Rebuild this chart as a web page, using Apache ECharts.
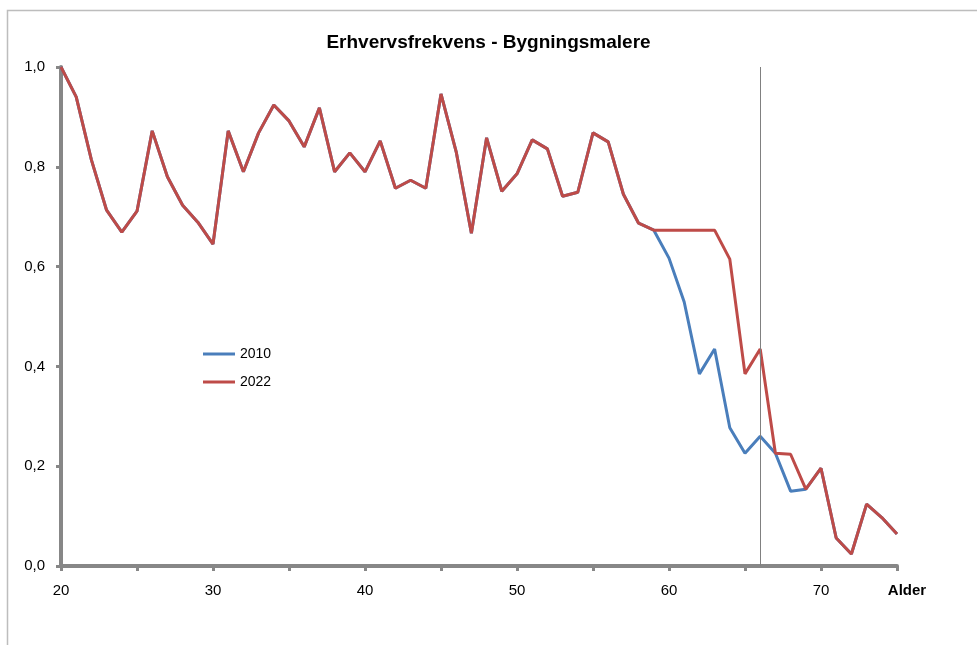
<!DOCTYPE html>
<html>
<head>
<meta charset="utf-8">
<script src="https://cdn.jsdelivr.net/npm/echarts@6/dist/echarts.min.js"></script>
<style>html,body{margin:0;padding:0;background:#fff}#c{width:977px;height:645px}</style>
</head>
<body>
<div id="c"></div>
<script>
const ages = [20,21,22,23,24,25,26,27,28,29,30,31,32,33,34,35,36,37,38,39,40,41,42,43,44,45,46,47,48,49,50,51,52,53,54,55,56,57,58,59,60,61,62,63,64,65,66,67,68,69,70,71,72,73,74,75];
const v2010 = [1.0,0.94,0.814,0.713,0.669,0.711,0.872,0.78,0.723,0.689,0.645,0.872,0.79,0.868,0.924,0.892,0.84,0.918,0.79,0.828,0.79,0.852,0.757,0.773,0.757,0.946,0.83,0.667,0.858,0.751,0.786,0.854,0.836,0.741,0.749,0.868,0.85,0.745,0.687,0.673,0.617,0.529,0.385,0.435,0.277,0.226,0.26,0.226,0.15,0.154,0.196,0.056,0.024,0.124,0.097,0.064];
const v2022 = [1.0,0.94,0.814,0.713,0.669,0.711,0.872,0.78,0.723,0.689,0.645,0.872,0.79,0.868,0.924,0.892,0.84,0.918,0.79,0.828,0.79,0.852,0.757,0.773,0.757,0.946,0.83,0.667,0.858,0.751,0.786,0.854,0.836,0.741,0.749,0.868,0.85,0.745,0.687,0.673,0.673,0.673,0.673,0.673,0.615,0.385,0.435,0.226,0.224,0.154,0.196,0.056,0.024,0.124,0.097,0.064];
const seriesNames = ['2010','2022'];
const markAge = 66;
const titleText = 'Erhvervsfrekvens - Bygningsmalere';
const xAxisName = 'Alder';

const font = "'Liberation Sans Narrow','Liberation Sans',sans-serif";
const chart = echarts.init(document.getElementById('c'), null, {renderer:'canvas'});
const pair = arr => ages.map((a,i)=>[a, arr[i]]);
chart.setOption({
  animation:false,
  backgroundColor:'#fff',
  graphic:[{type:'rect',shape:{x:7.5,y:10.5,width:1000,height:700},style:{fill:'none',stroke:'#bdbdbd',lineWidth:1.5}}],
  title:{text:titleText,left:'center',top:28,textStyle:{fontFamily:font,fontSize:19,fontWeight:'bold',color:'#000'}},
  legend:{orient:'vertical',left:198,top:342,itemWidth:32,itemHeight:3,itemGap:14,icon:'rect',
    textStyle:{fontFamily:font,fontSize:14,color:'#000'},data:seriesNames},
  grid:{left:61,right:80,top:67,bottom:79,containLabel:false},
  xAxis:{type:'value',min:20,max:75,interval:5,
    axisLine:{lineStyle:{color:'#878787',width:4}},
    axisTick:{show:true,length:5,lineStyle:{color:'#878787',width:3}},
    splitLine:{show:false},
    axisLabel:{margin:17,fontFamily:font,fontSize:15,color:'#000',
      formatter:v=> v===75 ? '{b|'+xAxisName+'}' : (v%10===0 ? String(v) : ''),
      rich:{b:{fontFamily:font,fontSize:15,fontWeight:'bold',color:'#000',padding:[0,0,0,20]}}}},
  yAxis:{type:'value',min:0,max:1,interval:0.2,
    axisLine:{show:true,lineStyle:{color:'#878787',width:4}},
    axisTick:{show:true,length:5,lineStyle:{color:'#878787',width:3}},
    splitLine:{show:false},
    axisLabel:{margin:16,fontFamily:font,fontSize:15,color:'#000',formatter:v=>v.toFixed(1).replace('.',',')}},
  series:[
    {name:seriesNames[0],type:'line',data:pair(v2010),symbol:'none',color:'#4A7EBB',lineStyle:{width:3,color:'#4A7EBB'},z:2,
      markLine:{silent:true,symbol:['none','none'],label:{show:false},lineStyle:{color:'#808080',width:1,type:'solid'},data:[{xAxis:markAge}]}},
    {name:seriesNames[1],type:'line',data:pair(v2022),symbol:'none',color:'#BE4B48',lineStyle:{width:3,color:'#BE4B48'},z:3}
  ]
});
</script>
</body>
</html>
